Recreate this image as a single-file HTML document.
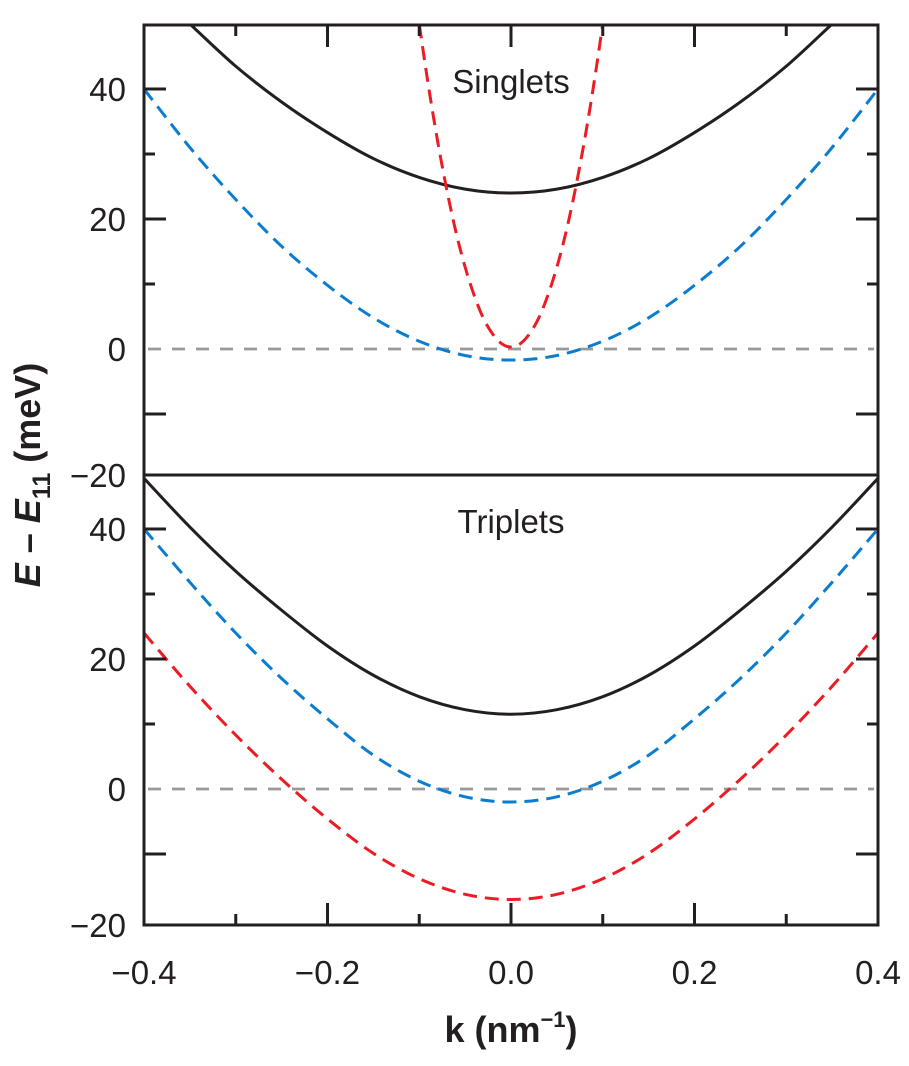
<!DOCTYPE html>
<html><head><meta charset="utf-8"><style>
html,body{margin:0;padding:0;background:#fff;}
svg text{font-family:"Liberation Sans",sans-serif;fill:#231f20;}
</style></head><body>
<svg id="chart" width="909" height="1061" viewBox="0 0 909 1061" xmlns="http://www.w3.org/2000/svg">
<defs>
<clipPath id="clipTop"><rect x="144" y="25" width="734" height="450"/></clipPath>
<clipPath id="clipBot"><rect x="144" y="475" width="734" height="450"/></clipPath>
</defs>
<g id="marks"></g>
<g id="axes"></g>
<text x="511" y="93" font-size="33" text-anchor="middle">Singlets</text>
<text x="511" y="533" font-size="33" text-anchor="middle">Triplets</text>
<text x="511" y="1042" font-size="36" font-weight="bold" text-anchor="middle">k (nm<tspan font-size="22" dy="-15">−1</tspan><tspan dy="15">)</tspan></text>
<text transform="translate(40,475) rotate(-90)" font-size="36" font-weight="bold" text-anchor="middle"><tspan font-style="italic">E</tspan> – <tspan font-style="italic">E</tspan><tspan font-size="25" dy="10">11</tspan><tspan dy="-10"> (meV)</tspan></text>
</svg>
<script>
const kAbs = [0, 0.05, 0.1, 0.15, 0.2, 0.25, 0.3, 0.35, 0.4];
const singletBlack = [24, 24.6, 26.4, 29.3, 33.3, 38, 43.5, 50, 56.5];
const singletBlue = [-1.7, -1.0, 1.2, 4.8, 9.8, 15.8, 23, 31, 40];
const redK = [0, 0.01, 0.02, 0.03, 0.04, 0.05, 0.06, 0.07, 0.08, 0.09, 0.1, 0.11];
const singletRed = [0.3, 0.8, 2.3, 4.7, 8.2, 12.6, 18, 24.5, 32, 40.5, 50, 60];
const tripletBlack = [11.5, 12.2, 14.2, 17.5, 22, 27.5, 33.5, 40.3, 47.8];
const tripletBlue = [-2, -1.2, 1.2, 5.2, 10.8, 17, 24, 31.8, 40];
const tripletRed = [-17, -16.2, -13.8, -9.9, -4.6, 1.5, 8.3, 15.8, 24];
const xTicks = [-0.4, -0.3, -0.2, -0.1, 0.0, 0.1, 0.2, 0.3, 0.4];
const xTickLabels = ["−0.4", "", "−0.2", "", "0.0", "", "0.2", "", "0.4"];
const yTicks = [40, 30, 20, 10, -10];
const yTickLabels = ["40", "20", "0", "−20"];
const yLabelVals = [40, 20, 0, -20];

const NS = "http://www.w3.org/2000/svg";
const X0 = 144, X1 = 878;
function xs(k){ return X0 + (k + 0.4) / 0.8 * (X1 - X0); }
function yTop(v){ return 349 - 6.5 * v; }
function yBot(v){ return 789 - 6.5 * v; }

function mirror(ks, vs){
  const K = [], V = [];
  for (let i = ks.length - 1; i > 0; i--) { K.push(-ks[i]); V.push(vs[i]); }
  for (let i = 0; i < ks.length; i++) { K.push(ks[i]); V.push(vs[i]); }
  return [K, V];
}
function smoothPath(pts){
  let d = "M" + pts[0][0].toFixed(2) + "," + pts[0][1].toFixed(2);
  for (let i = 0; i < pts.length - 1; i++) {
    const p0 = pts[i - 1] || pts[i], p1 = pts[i], p2 = pts[i + 1], p3 = pts[i + 2] || p2;
    const c1x = p1[0] + (p2[0] - p0[0]) / 6, c1y = p1[1] + (p2[1] - p0[1]) / 6;
    const c2x = p2[0] - (p3[0] - p1[0]) / 6, c2y = p2[1] - (p3[1] - p1[1]) / 6;
    d += " C" + c1x.toFixed(2) + "," + c1y.toFixed(2) + " " + c2x.toFixed(2) + "," + c2y.toFixed(2) + " " + p2[0].toFixed(2) + "," + p2[1].toFixed(2);
  }
  return d;
}
const marks = document.getElementById("marks");
const axes = document.getElementById("axes");

function drawCurve(name, ks, vs, yfn, color, dash, clip){
  const [K, V] = mirror(ks, vs);
  const pts = K.map((k, i) => [xs(k), yfn(V[i])]);
  const p = document.createElementNS(NS, "path");
  p.setAttribute("d", smoothPath(pts));
  p.setAttribute("fill", "none");
  p.setAttribute("stroke", color);
  p.setAttribute("stroke-width", "3");
  if (dash) p.setAttribute("stroke-dasharray", dash);
  p.setAttribute("clip-path", "url(#" + clip + ")");
  
  
  marks.appendChild(p);
}
function drawZero(name, yfn){
  const l = document.createElementNS(NS, "line");
  l.setAttribute("x1", X0 + 4); l.setAttribute("x2", X1 - 4);
  l.setAttribute("y1", yfn(0)); l.setAttribute("y2", yfn(0));
  l.setAttribute("stroke", "#999"); l.setAttribute("stroke-width", "2.8");
  l.setAttribute("stroke-dasharray", "13 11");
  
  
  marks.appendChild(l);
}
drawZero("singlets-zero-line", yTop);
drawZero("triplets-zero-line", yBot);
drawCurve("singlet-black-curve", kAbs, singletBlack, yTop, "#231f20", null, "clipTop");
drawCurve("singlet-blue-curve", kAbs, singletBlue, yTop, "#0a7dd0", "14 8", "clipTop");
drawCurve("singlet-red-curve", redK, singletRed, yTop, "#ec1c24", "14 8", "clipTop");
drawCurve("triplet-black-curve", kAbs, tripletBlack, yBot, "#231f20", null, "clipBot");
drawCurve("triplet-blue-curve", kAbs, tripletBlue, yBot, "#0a7dd0", "14 8", "clipBot");
drawCurve("triplet-red-curve", kAbs, tripletRed, yBot, "#ec1c24", "14 8", "clipBot");

function line(name, x1, y1, x2, y2, w){
  const l = document.createElementNS(NS, "line");
  l.setAttribute("x1", x1); l.setAttribute("y1", y1);
  l.setAttribute("x2", x2); l.setAttribute("y2", y2);
  l.setAttribute("stroke", "#231f20"); l.setAttribute("stroke-width", w || 3);
  
  
  axes.appendChild(l);
}
function text(name, x, y, s, anchor){
  const t = document.createElementNS(NS, "text");
  t.setAttribute("x", x); t.setAttribute("y", y);
  t.setAttribute("font-size", "33");
  t.setAttribute("text-anchor", anchor);
  t.textContent = s;
  
  
  axes.appendChild(t);
}
line("plot-frame-top", X0 - 1.5, 25, X1 + 1.5, 25);
line("plot-frame-bottom", X0 - 1.5, 925, X1 + 1.5, 925);
line("plot-frame-left", X0, 25, X0, 925);
line("plot-frame-right", X1, 25, X1, 925);
line("panel-divider", X0, 475, X1, 475);
xTicks.forEach((k, i) => {
  if (i === 0 || i === xTicks.length - 1) return;
  const len = (i % 2 === 0) ? 22 : 11;
  line("x-tick-top", xs(k), 25, xs(k), 25 + len);
  line("x-tick-bottom", xs(k), 925, xs(k), 925 - len);
});
xTicks.forEach((k, i) => {
  if (xTickLabels[i]) text("x-tick-label", xs(k), 984, xTickLabels[i], "middle");
});
[yTop, yBot].forEach((yfn, pi) => {
  yTicks.forEach(v => {
    const len = (v === 40 || v === 20 || v === -10) ? 22 : 11;
    line("y-tick-left", X0, yfn(v), X0 + len, yfn(v));
    line("y-tick-right", X1, yfn(v), X1 - len, yfn(v));
  });
  yLabelVals.forEach((v, i) => {
    let y = yfn(v);
    if (v === -20) y = pi === 0 ? 475 : 925;
    text("y-tick-label", 126, y + 12, yTickLabels[i], "end");
  });
});
</script>
</body></html>
